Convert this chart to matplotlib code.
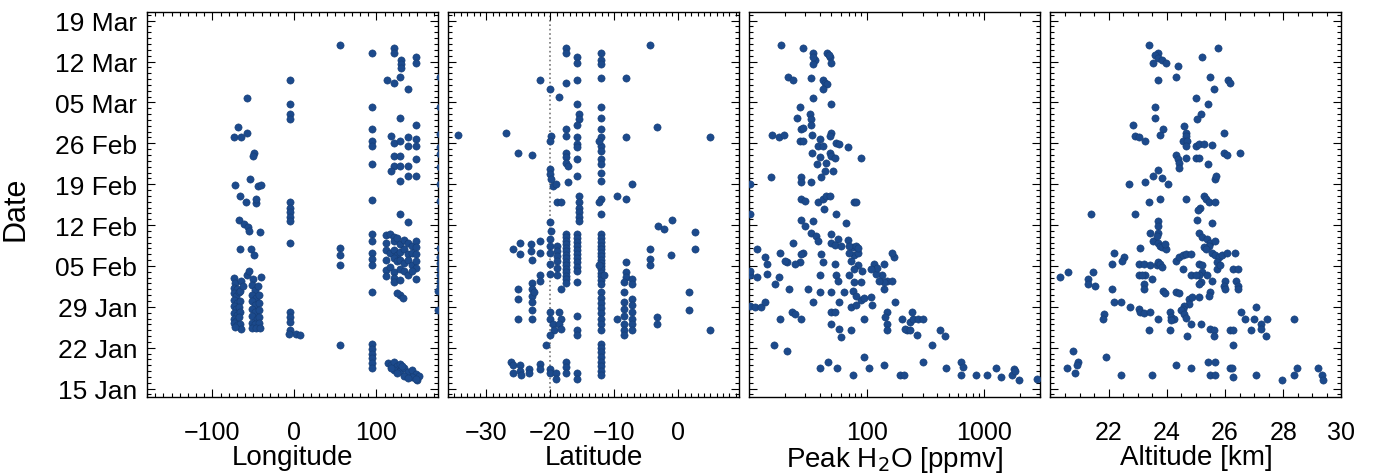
import matplotlib
matplotlib.use("Agg")
import matplotlib.pyplot as plt
from matplotlib.ticker import MultipleLocator, FixedLocator, LogLocator, NullFormatter

plt.rcParams['font.family'] = ['Liberation Sans', 'DejaVu Sans']

# days counted from 15 Jan
date_ticks = [0, 7, 14, 21, 28, 35, 42, 49, 56, 63]
date_labels = ["15 Jan", "22 Jan", "29 Jan", "05 Feb", "12 Feb", "19 Feb",
               "26 Feb", "05 Mar", "12 Mar", "19 Mar"]

# ---- longitude panel ----
lon = [55, 94, 121, 121, 130, 130, 130, 148, 148,
       113, 121, 129, 138, -6, -6, -6, -6,
       -58, 94, 129, 148, -69, -74, -65, -58,
       94, 94, 94, 94,
       118, 121, 129, 138, 138, 148, 148, 121, 121, 118, 129, 129, 138, 148, 148, 138, 129,
       -49, -51, -72, -54, -45, -41, -67, -59, -47, -47,
       -6, -6, -6, -6, -6, 94, 129, 138,
       -68, -61, -57, -56, -42, -6, -67, -53, -49,
       55, 55, 55, 94, 94, 94, 94, 94, 94,
       112, 116, 121, 112, 121, 125, 129, 134, 138, 143, 148, 148,
       112, 116, 121, 125, 129, 134, 138, 143, 148,
       112, 121, 125, 129, 134, 138, 143, 148, 148,
       112, 116, 121, 129, 134, 138, 143, 112, 121, 148, 121, 129,
       129, 125, 132,
       -74, -72, -74, -70, -74, -71, -68, -74, -70, -67, -74, -71, -68, -74, -70, -66,
       -74, -71, -68, -74, -70, -66, -65, -72, -66, -65, -63,
       -51, -52, -48, -44, -52, -47, -43, -52, -48, -43, -52, -48, -43, -52, -46, -43,
       -52, -48, -43, -52, -47, -42, -58, -55, -41,
       -6, -6, -6, -6, 2, 7, -7, 55,
       94, 94, 94, 94, 94, 94,
       114, 118, 121, 125, 129, 121, 129, 134, 138, 143, 148, 143, 150, 152, 134, 125,
       138, 148, 118, 131,
       178, 178, 178, 178, 178, 178, 178, 178, 178, 178, 178, 178, 178, 175, 175, 178, 178]
lon_day = [58.8, 57.4, 58.3, 57.5, 56.3, 55.5, 54.9, 56.8, 55.8,
           52.8, 52.4, 53.4, 51.3, 52.8, 48.8, 47.0, 46.1,
           49.8, 48.2, 46.4, 45.2, 44.8, 43.0, 43.0, 43.8,
           44.4, 42.4, 41.5, 38.4,
           43.2, 42.1, 42.4, 43.0, 41.5, 42.7, 41.5, 39.8, 38.1, 37.3, 39.8, 38.1, 38.1, 39.3, 36.4, 36.4, 35.6,
           40.3, 39.8, 34.8, 35.9, 34.7, 34.8, 33.0, 32.0, 31.8, 32.4,
           31.9, 31.0, 30.2, 29.3, 28.7, 32.3, 29.9, 28.6,
           28.9, 28.2, 27.6, 27.0, 26.9, 24.9, 23.9, 23.9, 22.9,
           24.0, 22.8, 21.1, 26.5, 25.3, 23.3, 22.2, 21.1, 16.5,
           26.3, 26.5, 26.0, 25.0, 25.3, 25.8, 24.8, 25.5, 25.0, 24.5, 25.3, 24.3,
           23.8, 23.3, 23.8, 22.8, 23.4, 23.9, 23.0, 23.2, 23.0,
           22.0, 22.3, 21.8, 22.0, 21.5, 22.1, 21.2, 21.8, 20.6,
           20.3, 20.8, 20.0, 20.5, 20.2, 19.5, 20.2, 19.3, 19.0, 18.7, 18.3, 18.6,
           16.0, 16.3, 15.6,
           19.0, 18.0, 17.2, 17.0, 16.3, 15.8, 16.5, 15.2, 14.6, 15.0, 14.1, 13.6, 13.9, 13.0, 12.6, 13.1,
           12.0, 11.6, 12.2, 11.2, 10.9, 11.0, 10.2, 10.5, 16.8, 18.5, 17.5,
           18.8, 17.8, 16.9, 17.6, 16.0, 15.5, 16.0, 15.0, 14.4, 14.6, 13.6, 13.2, 13.4, 12.5, 12.0, 12.3,
           11.3, 11.0, 11.2, 10.4, 10.3, 10.4, 19.4, 20.2, 19.1,
           13.1, 12.3, 11.4, 10.1, 9.3, 9.2, 9.4, 7.4,
           7.7, 6.8, 6.0, 5.2, 4.4, 3.6,
           4.4, 4.0, 4.5, 3.8, 4.2, 3.2, 3.0, 3.6, 2.8, 3.2, 2.5, 2.0, 1.5, 2.2, 2.2, 2.6,
           1.8, 1.7, 3.5, 3.9,
           53.4, 48.2, 43.6, 41.3, 40.2, 35.0, 32.1, 22.5, 21.5, 20.5, 19.5, 18.5, 17.5, 16.8, 13.4, 24.0, 38.0]

# ---- latitude panel ----
lat = [-4.4, -17.6, -17.6, -15.8, -15.8, -12.1, -12.1, -12.1,
       -12.1, -15.8, -17.6, -21.7, -20.0, -18.6, -8.2,
       -15.8, -12.1, -12.1, -15.5, -15.5, -15.8, -17.6, -17.6, -19.9, -20.0,
       -15.8, -15.8, -15.8, -12.1, -12.1, -12.1, -12.4,
       -8.2, -3.4, 4.9, -34.4, -26.9, -25.1, -22.9,
       -17.6, -17.6, -17.6, -17.3, -15.8, -15.8, -17.3,
       -12.1, -12.1, -12.1, -12.1, -12.1,
       -20.0, -20.0, -19.9, -19.6, -19.1,
       -7.2, -9.6, -8.2, -12.1, -12.4, -12.1, -18.9, -18.3,
       -15.5, -15.5, -15.5, -15.5, -15.5, -15.5,
       -20.0, -19.9, -20.0, -20.0, -20.0, -20.0, -20.0,
       -17.6, -17.6, -17.6, -17.6, -17.6, -17.6, -17.6, -17.6, -17.6, -17.6, -17.6, -17.6, -17.6, -17.6, -17.6,
       -18.9, -18.9, -18.9, -18.9, -18.9, -18.9,
       -15.8, -15.8, -15.8, -15.8, -15.8, -15.8, -15.8, -15.8, -15.8, -15.8,
       -12.1, -12.1, -12.1, -12.1, -12.1, -12.1, -12.1, -12.1, -12.1, -12.1, -12.1, -12.1, -12.1, -12.1, -12.1,
       -12.4, -11.6, -3.1, -2.3, -1.0, 2.6, 2.6, -4.4, -4.4, -4.4, -1.1,
       -8.2, -8.2, -8.2, -7.2, -7.2, -8.5,
       -25.9, -24.8, -24.8, -23.0, -23.0, -22.9, -21.7, -21.7, -21.6,
       -18.3, -15.8, -25.1, -25.1, -25.1,
       -22.9, -22.9, -22.9, -22.9, -22.9, -22.9, -22.6, -21.7,
       -20.0, -20.0, -19.6, -19.4, -20.0, -18.6, -18.3, -18.6, -18.3,
       -15.8, -15.8, -15.8,
       -12.1, -12.1, -12.1, -12.1, -12.1, -12.1, -12.1, -12.1,
       -9.6, -8.5, -8.5, -8.5, -8.5, -8.5, -8.5, -8.5,
       -7.2, -7.2, -7.2, -7.2, -7.2, -7.2,
       -3.4, -3.4, 1.6, 1.6, 4.9, -20.7,
       -12.1, -12.1, -12.1, -12.1, -12.1, -12.1, -12.1, -12.1,
       -26.1, -25.9, -25.9, -24.8, -24.8, -24.6, -23.3, -23.3, -21.7, -21.7,
       -20.0, -20.0, -19.1, -19.1, -17.6, -17.6, -17.6, -15.8, -15.8]
lat_day = [58.8, 58.3, 57.5, 56.8, 55.8, 57.4, 56.3, 55.5,
           53.2, 52.8, 52.4, 52.8, 51.3, 49.9, 53.2,
           48.8, 48.3, 46.4, 47.0, 46.1, 45.2, 44.4, 43.3, 43.3, 42.4,
           43.0, 41.8, 41.3, 44.4, 43.0, 41.5, 42.4,
           43.0, 44.8, 43.0, 43.5, 43.8, 40.4, 40.0,
           40.4, 39.6, 38.7, 38.1, 39.3, 36.4, 35.4,
           40.7, 39.3, 38.4, 37.0, 35.6,
           37.6, 36.7, 35.9, 34.7, 35.0,
           35.0, 33.0, 32.4, 32.4, 31.9, 29.9, 32.0, 32.0,
           33.0, 32.0, 31.0, 30.2, 29.3, 28.7,
           28.5, 27.0, 25.6, 24.5, 23.3, 21.3, 19.6,
           26.5, 25.9, 25.3, 24.7, 24.1, 23.5, 22.9, 22.3, 21.7, 21.1, 20.5, 19.9, 19.3, 18.7, 18.1,
           24.5, 23.6, 22.7, 21.8, 20.6, 19.4,
           26.5, 25.8, 25.1, 24.4, 23.7, 23.0, 22.3, 21.6, 20.9, 20.2,
           26.5, 25.8, 25.1, 24.5, 23.9, 23.3, 22.7, 22.1, 21.5, 21.0, 20.4, 19.8, 19.2, 18.6, 17.9,
           21.1, 19.4, 27.9, 27.3, 28.9, 26.9, 23.9, 23.9, 22.2, 21.1, 22.9,
           21.6, 19.9, 19.1, 18.8, 17.9, 18.2,
           23.9, 25.0, 23.0, 24.7, 23.5, 22.1, 25.3, 23.3, 19.4,
           17.1, 18.2, 17.1, 15.4, 12.0,
           18.0, 17.1, 15.9, 14.8, 13.4, 12.0, 16.5, 18.5,
           13.1, 12.0, 11.1, 10.0, 9.1, 13.1, 12.0, 11.1, 10.2,
           12.5, 10.0, 9.1,
           16.5, 15.6, 14.7, 13.8, 12.9, 12.0, 11.1, 10.0,
           12.0, 16.5, 14.9, 13.6, 12.4, 11.1, 10.0, 9.1,
           15.4, 14.3, 13.1, 12.0, 11.0, 10.0,
           12.2, 11.1, 16.5, 13.4, 10.0, 7.4,
           7.7, 7.0, 6.2, 5.4, 4.6, 3.8, 3.0, 2.4,
           4.6, 4.0, 2.6, 4.0, 3.0, 2.3, 3.4, 2.6, 4.3, 3.4,
           3.4, 2.6, 2.6, 1.7, 4.6, 3.7, 2.6, 2.6, 1.7]

# ---- peak H2O panel ----
h2o = [18.7, 28.8, 34.9, 36.6, 34.9, 34.9, 46.1, 48.3, 49.8, 47.3,
       21.3, 23.7, 33.8, 42.4, 43.8, 46.1, 42.4, 34.9, 49.2, 27.0,
       25.3, 27.8, 32.8, 33.8, 33.4, 28.8, 15.6, 17.8, 19.6, 27.0,
       28.8, 34.3, 39.8, 38.5, 42.4, 49.8, 48.3, 54.9, 58.5, 68.8,
       89.0, 48.3, 49.2, 53.2, 39.8, 38.0, 45.2, 34.3, 41.0, 43.8,
       51.5, 27.8, 27.8, 33.8, 15.2, 27.8, 29.7, 38.5, 42.4, 45.2,
       48.3, 43.2, 78.3, 80.8, 27.8, 29.7, 34.9, 33.8, 37.3, 38.5,
       54.9, 66.6, 49.8, 56.5, 49.8, 53.2, 60.4, 68.8, 11.7, 13.7,
       14.2, 14.2, 11.7, 17.8, 16.6, 21.6, 18.4, 20.8, 20.2, 23.7,
       28.8, 27.8, 27.0, 24.5, 31.7, 41.0, 42.4, 39.8, 34.9, 10.2,
       10.2, 10.2, 11.3, 12.5, 13.7, 18.4, 23.0, 24.5, 27.8, 39.8,
       49.8, 53.2, 54.9, 56.5, 58.5, 49.8, 53.2, 49.8, 58.5, 60.4,
       73.4, 73.4, 80.8, 89.0, 95.0, 95.0, 108, 111.6, 140, 149,
       164, 170, 164, 140, 140, 135, 115, 119, 127, 123,
       108, 92, 89, 78.3, 71, 78.3, 83.5, 71, 75.8, 71,
       80.8, 83.5, 73.4, 83.5, 78.3, 75.8, 80.8, 64.5, 175, 149,
       144, 149, 149, 200, 220, 234, 250, 275, 303, 213,
       234, 266, 242, 356, 419, 461, 16.1, 20.8, 39.8, 46.7,
       55.8, 75.8, 95.0, 104.6, 140, 193, 209, 303, 476, 636,
       657, 636, 851, 1065, 1253, 1382, 1730, 1787, 1845, 1970,
       2800, 10.2, 10.2]
h2o_day = [58.8, 58.3, 57.5, 56.3, 55.5, 56.8, 57.5, 56.8, 55.8, 57.2,
           53.4, 52.8, 53.2, 52.8, 52.4, 52.2, 51.3, 49.8, 48.8, 48.3,
           46.4, 44.4, 47.0, 46.1, 45.2, 44.7, 43.4, 43.0, 43.5, 42.4,
           42.4, 43.4, 42.7, 41.5, 41.5, 43.8, 43.3, 42.1, 41.8, 41.4,
           39.4, 40.4, 39.8, 39.4, 39.6, 38.4, 38.7, 40.3, 36.3, 37.3,
           37.3, 36.3, 35.4, 35.4, 36.3, 32.4, 32.2, 32.0, 32.4, 32.9,
           32.9, 30.8, 31.9, 31.9, 28.9, 27.9, 28.7, 26.7, 26.2, 25.3,
           29.9, 28.3, 26.5, 25.7, 25.0, 24.6, 24.4, 25.5, 23.9, 22.5,
           21.3, 19.6, 19.1, 19.1, 17.9, 17.0, 23.3, 21.6, 21.9, 24.9,
           23.3, 23.1, 21.6, 21.3, 17.0, 23.1, 21.6, 19.4, 14.9, 19.4,
           20.2, 14.2, 13.9, 13.9, 14.9, 12.0, 13.1, 12.8, 12.0, 16.5,
           16.5, 21.3, 19.4, 18.5, 14.8, 13.1, 13.1, 11.1, 10.2, 8.8,
           10.0, 13.9, 14.3, 15.1, 15.5, 12.0, 15.7, 14.3, 17.1, 18.5,
           18.5, 22.5, 23.3, 21.3, 18.2, 19.4, 21.3, 19.6, 18.5, 20.6,
           20.5, 20.2, 18.2, 18.2, 19.4, 22.8, 23.3, 23.3, 24.2, 24.5,
           24.5, 24.0, 21.9, 21.1, 20.5, 16.8, 15.9, 16.5, 14.9, 13.1,
           12.2, 11.1, 10.0, 12.0, 10.0, 11.4, 12.0, 12.0, 12.0, 10.2,
           10.0, 9.1, 13.1, 7.4, 10.0, 9.0, 7.4, 6.5, 3.5, 4.6,
           3.5, 2.4, 5.4, 3.5, 4.0, 2.4, 2.4, 4.6, 3.5, 4.6,
           3.7, 2.4, 2.4, 2.4, 3.5, 2.0, 2.4, 3.4, 3.0, 1.5,
           1.7, 35.0, 29.9]

# ---- altitude panel ----
alt = [23.40, 23.70, 23.59, 23.70, 23.82, 23.96, 23.54, 25.20, 25.76, 24.38,
       24.32, 23.70, 25.50, 25.61, 26.11, 26.17, 24.99, 25.42, 25.16, 25.05,
       23.59, 23.59, 23.87, 23.76, 22.84, 22.89, 23.03, 23.26, 24.60, 24.66,
       24.66, 24.54, 24.71, 24.66, 24.99, 25.11, 25.27, 25.55, 24.32, 24.38,
       24.43, 24.43, 24.66, 24.99, 25.11, 25.42, 25.95, 26.06, 26.51, 25.95,
       23.70, 23.54, 23.82, 24.04, 23.26, 22.70, 25.67, 25.70, 25.27, 25.33,
       25.44, 25.67, 25.13, 25.08, 24.66, 23.76, 23.40, 25.02, 23.70, 23.70,
       23.70, 22.92, 21.38, 25.55, 25.11, 25.22, 25.39, 25.50, 25.44, 25.27,
       25.33, 25.67, 25.55, 25.67, 25.78, 25.72, 25.89, 26.06, 26.34, 23.42,
       23.54, 23.70, 23.76, 23.82, 23.98, 23.93, 23.65, 23.09, 22.19, 22.53,
       22.47, 22.13, 23.03, 23.20, 23.42, 23.65, 23.70, 23.76, 23.82, 23.48,
       23.26, 23.03, 23.14, 24.32, 24.43, 24.54, 24.66, 24.83, 24.54, 25.11,
       25.22, 25.22, 25.11, 24.83, 24.99, 25.39, 25.55, 25.72, 25.83, 26.28,
       26.45, 26.39, 26.45, 26.00, 25.95, 25.16, 25.11, 21.29, 21.29, 21.52,
       21.46, 20.34, 20.62, 23.87, 23.93, 23.20, 23.20, 24.32, 24.43, 25.50,
       25.44, 26.00, 26.45, 22.13, 22.19, 22.41, 24.77, 24.88, 25.11, 24.77,
       24.60, 24.54, 24.49, 24.60, 24.66, 22.75, 23.03, 23.09, 23.20, 23.42,
       23.70, 24.10, 24.15, 24.26, 24.15, 25.16, 24.83, 25.50, 25.61, 25.61,
       26.17, 26.28, 26.28, 26.56, 26.67, 26.90, 27.01, 27.07, 27.24, 27.24,
       27.40, 27.44, 28.36, 21.85, 21.80, 23.40, 24.10, 24.71, 20.76, 21.91,
       20.96, 20.90, 20.85, 20.57, 22.41, 23.48, 24.32, 24.83, 25.42, 25.67,
       25.50, 25.67, 26.17, 26.23, 26.28, 27.07, 27.96, 28.36, 28.47, 29.20,
       29.34, 29.37]
alt_day = [58.8, 57.5, 57.2, 56.6, 56.3, 55.8, 55.8, 56.8, 58.3, 55.3,
           53.4, 52.8, 53.4, 51.3, 52.8, 52.4, 49.8, 48.8, 47.0, 46.1,
           48.3, 46.4, 44.4, 43.4, 45.2, 43.3, 43.0, 42.4, 45.0, 43.8,
           43.3, 42.4, 42.4, 41.5, 41.5, 41.8, 41.9, 41.7, 40.0, 39.3,
           38.7, 37.8, 39.4, 39.4, 39.4, 38.4, 40.4, 40.0, 40.4, 43.8,
           37.4, 36.4, 36.0, 35.0, 35.4, 35.0, 35.9, 36.4, 33.0, 32.4,
           32.0, 32.0, 31.0, 30.6, 32.4, 32.4, 32.0, 28.9, 28.7, 27.9,
           26.7, 29.9, 29.9, 28.3, 26.7, 25.9, 25.6, 25.0, 24.5, 24.2,
           23.9, 25.3, 23.3, 22.8, 22.5, 21.6, 22.8, 23.3, 23.3, 26.7,
           25.3, 25.0, 24.5, 24.2, 23.9, 24.8, 26.2, 24.0, 23.3, 22.5,
           21.9, 21.3, 21.3, 21.3, 21.1, 21.1, 21.6, 21.3, 20.8, 18.8,
           19.4, 19.5, 19.4, 21.9, 22.5, 22.8, 23.1, 23.1, 20.5, 21.3,
           21.1, 19.9, 19.4, 19.4, 19.4, 19.4, 18.5, 20.5, 21.1, 20.5,
           20.5, 18.5, 17.6, 18.5, 17.6, 18.2, 17.9, 18.8, 17.9, 17.6,
           19.9, 19.1, 19.9, 16.8, 16.3, 17.9, 17.1, 16.5, 16.4, 16.5,
           15.9, 17.1, 17.1, 17.0, 14.9, 14.9, 15.4, 15.7, 15.7, 14.5,
           14.2, 13.7, 13.4, 12.8, 12.1, 13.9, 13.7, 13.1, 12.9, 13.1,
           12.0, 13.1, 12.2, 12.0, 11.7, 11.1, 11.1, 10.2, 10.0, 9.0,
           10.0, 10.0, 7.4, 13.1, 12.0, 10.0, 12.0, 13.9, 11.1, 10.2,
           9.0, 12.0, 12.0, 12.8, 12.0, 10.0, 10.0, 9.0, 6.5, 5.4,
           4.6, 4.0, 2.6, 3.5, 2.4, 2.4, 4.0, 3.5, 4.6, 4.6,
           2.4, 2.4, 3.5, 3.5, 2.0, 2.4, 1.5, 2.4, 3.5, 3.5,
           2.4, 1.5]

dot_color = '#1c4a8c'
tick_fs = 18
ytick_fs = 19
label_fs = 20

fig, axes = plt.subplots(1, 4, sharey=True, figsize=(13.73, 4.77), dpi=100)
fig.subplots_adjust(left=0.107, right=0.977, bottom=0.166, top=0.973, wspace=0.035)

panels = [(lon, lon_day, "Longitude"), (lat, lat_day, "Latitude"),
          (h2o, h2o_day, "Peak H$_2$O [ppmv]"), (alt, alt_day, "Altitude [km]")]

for ax, (xv, dv, lab) in zip(axes, panels):
    ax.scatter(xv, dv, s=27, color=dot_color, edgecolors='#163d75', linewidths=0.4,
               zorder=3)
    ax.set_xlabel(lab, fontsize=label_fs, labelpad=0)
    ax.tick_params(which='both', direction='in', top=True, right=True, width=0.8)
    ax.tick_params(which='major', length=6)
    ax.tick_params(which='minor', length=3)
    ax.tick_params(axis='x', pad=17, labelsize=tick_fs)
    ax.tick_params(axis='y', pad=7, labelsize=ytick_fs)
    for sp in ax.spines.values():
        sp.set_linewidth(1.0)

ax0 = axes[0]
ax0.set_ylim(-1.4, 64.5)
ax0.yaxis.set_major_locator(FixedLocator(date_ticks))
ax0.set_yticklabels(date_labels)
ax0.yaxis.set_minor_locator(MultipleLocator(1))
ax0.set_ylabel("Date", fontsize=22)
ax0.yaxis.set_label_coords(-0.40, 0.49)

axes[0].set_xlim(-180, 175)
axes[0].xaxis.set_major_locator(FixedLocator([-100, 0, 100]))
axes[0].xaxis.set_minor_locator(MultipleLocator(10))

axes[1].set_xlim(-36, 9.5)
axes[1].xaxis.set_major_locator(FixedLocator([-30, -20, -10, 0]))
axes[1].xaxis.set_minor_locator(MultipleLocator(1))
axes[1].axvline(-20, ls=':', color='#777777', lw=1.2, zorder=1)

axes[2].set_xscale('log')
axes[2].set_xlim(10, 3000)
axes[2].xaxis.set_major_locator(FixedLocator([100, 1000]))
axes[2].set_xticklabels(["100", "1000"])
axes[2].xaxis.set_minor_locator(LogLocator(base=10, subs=range(2, 10)))
axes[2].xaxis.set_minor_formatter(NullFormatter())

axes[3].set_xlim(20, 30)
axes[3].xaxis.set_major_locator(FixedLocator([22, 24, 26, 28, 30]))
axes[3].xaxis.set_minor_locator(MultipleLocator(0.5))

fig.savefig("out.png", dpi=100)
